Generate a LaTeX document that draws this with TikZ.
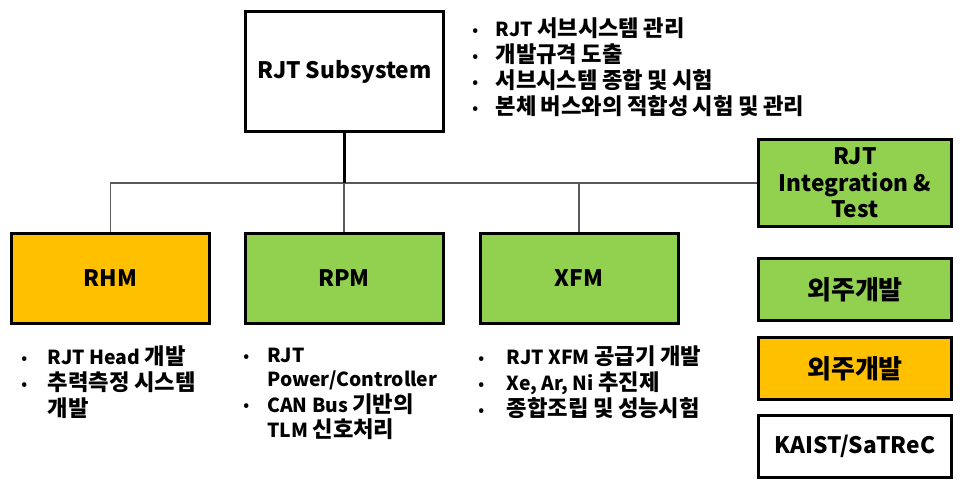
\documentclass[tikz,border=0pt]{standalone}
\usepackage{fontspec}
\setmainfont{Noto Sans CJK KR}
% Hangul syllables are set a little larger than the Latin letters
\newfontfamily\hangulfont{Noto Sans CJK KR}[Scale=1.15]
\XeTeXinterchartokenstate=1
\newXeTeXintercharclass\hangulcls
\newcount\hcode
\hcode="AC00
\loop\ifnum\hcode<"D7A4 \XeTeXcharclass\hcode=\hangulcls \advance\hcode 1 \repeat
\XeTeXinterchartoks 0 \hangulcls = {\hangulfont}
\XeTeXinterchartoks 4095 \hangulcls = {\hangulfont}
\XeTeXinterchartoks \hangulcls 0 = {\rmfamily}
\XeTeXinterchartoks \hangulcls 4095 = {\rmfamily}
\definecolor{leafgreen}{HTML}{92D050}
\definecolor{amber}{HTML}{FFC000}
\definecolor{linkgray}{HTML}{5A5A5A}
\newlength\bulletwd
\newcommand\bulletlist[2]{\setlength\bulletwd{#1}\begin{tabular}[t]{@{}l@{}l@{}}#2\end{tabular}}
\newcommand\dotmark{\makebox[\bulletwd][l]{\raisebox{1.2pt}{\fontsize{11}{11}\selectfont •}}}
\begin{document}
\begin{tikzpicture}[x=0.75pt,y=-0.75pt,
  unitbox/.style={draw=black, line width=2.25pt, inner sep=0pt, align=center,
    font=\fontsize{17}{20}\selectfont\bfseries},
  wide/.style={unitbox, minimum width={198*0.75pt}, minimum height={90*0.75pt}},
  side/.style={unitbox, minimum width={193*0.75pt}, minimum height={62*0.75pt}},
  trunk/.style={draw=black, line width=2pt},
  branch/.style={draw=linkgray, line width=1.2pt},
  notes/.style={inner sep=0pt, anchor=base west, align=left,
    font=\fontsize{14.5}{17.5}\selectfont\bfseries}]
\useasboundingbox (0,0) rectangle (960,484);

% subsystem and work packages
\node[wide, fill=white, minimum height={120*0.75pt}] (sub) at (344.5,71.5) {RJT Subsystem};
\node[wide, fill=amber] (rhm) at (110.5,278.5) {RHM};
\node[wide, fill=leafgreen] (rpm) at (344,278.5) {RPM};
\node[wide, fill=leafgreen] (xfm) at (579,278.5) {XFM};

% right column: integration and legend
\node[side, fill=leafgreen, minimum height={87*0.75pt}] (integ) at (855,183) {RJT\\Integration \&\\Test};
\node[side, fill=leafgreen] (outgreen) at (855,290) {외주개발};
\node[side, fill=amber] (outamber) at (855,368.5) {외주개발};
\node[side, fill=white] (kaist) at (855,446.5) {KAIST/SaTReC};

% tree connectors
\coordinate (hub) at (344.5,183);
\draw[branch] (rhm.north) |- (integ.west);
\draw[branch] (rpm.north) -- (rpm.north |- hub);
\draw[branch] (xfm.north) -- (xfm.north |- hub);
\draw[trunk] (sub.south) -- (hub);

% task notes
\node[notes] (subnotes) at (472,37) {\bulletlist{17.5pt}{%
  \dotmark & RJT 서브시스템 관리\\
  \dotmark & 개발규격 도출\\
  \dotmark & 서브시스템 종합 및 시험\\
  \dotmark & 본체 버스와의 적합성 시험 및 관리}};
\node[notes] (rhmnotes) at (21,365) {\bulletlist{20pt}{%
  \dotmark & RJT Head 개발\\
  \dotmark & 추력측정 시스템\\
  & 개발}};
\node[notes] (rpmnotes) at (243,363) {\bulletlist{18pt}{%
  \dotmark & RJT\\
  & Power/Controller\\
  \dotmark & CAN Bus 기반의\\
  & TLM 신호처리}};
\node[notes] (xfmnotes) at (478,365) {\bulletlist{21.5pt}{%
  \dotmark & RJT XFM 공급기 개발\\
  \dotmark & Xe, Ar, Ni 추진제\\
  \dotmark & 종합조립 및 성능시험}};
\end{tikzpicture}
\end{document}
